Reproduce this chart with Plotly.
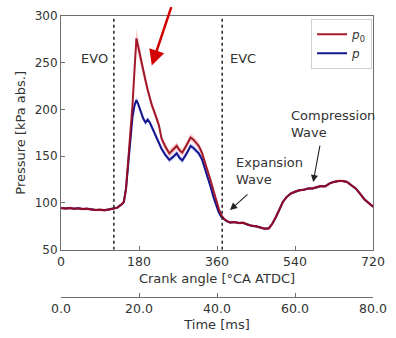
import plotly.graph_objects as go

# Crank angle grid [deg CA ATDC]
angle = [0, 10, 20, 30, 40, 50, 60, 70, 80, 90, 100, 110, 120, 130, 140,
         145, 150, 155, 160, 165, 170, 174, 178, 184, 190, 195, 200, 205, 210, 215,
         220, 226, 232, 240, 250, 258, 267, 274, 280, 290, 299, 305, 310, 318, 325,
         332, 340, 346, 352, 358, 364, 370, 376, 382, 390,
         400, 410, 420, 430, 440, 450, 460, 470, 480,
         488, 496, 504, 512, 520,
         530, 540, 550, 560, 570, 580, 590, 600, 610, 620,
         630, 640, 650, 660, 670, 680, 690, 700, 710, 720]

# Stagnation pressure p0 [kPa abs.]
p0 = [94.5, 94.0, 94.6, 93.8, 94.2, 93.4, 93.8, 92.8, 92.4, 92.7, 92.3, 93.0, 93.6, 95.0, 98.5,
      101, 115, 145, 172, 205, 245, 276, 268, 254, 241, 231, 221, 211, 204, 198,
      192, 183, 169, 161, 153, 157, 161, 156, 154, 162, 170, 168, 165, 161, 154,
      144, 133, 123, 113, 103, 94, 87, 83, 81, 79,
      79.5, 78.5, 78.8, 77.0, 75.5, 75.0, 73.5, 72.5, 73.0,
      78, 85, 93, 101, 106,
      110, 112, 113.5, 114, 115.5, 115.5, 116.5, 118, 117.8, 121,
      122.5, 123.5, 123.5, 122.5, 119, 115.5, 110, 104, 100, 96]

# Static pressure p [kPa abs.]
p = [94.5, 94.0, 94.6, 93.8, 94.2, 93.4, 93.8, 92.8, 92.4, 92.7, 92.3, 93.0, 93.6, 95.0, 98.5,
     101, 115, 144, 170, 192, 205, 210, 206, 198, 190, 186, 189, 186, 181, 176,
     170, 164, 158, 152, 146, 149, 153, 148, 145.5, 153, 161, 159, 157, 153, 147,
     137, 126, 116, 106, 98, 90, 85, 82.5, 80.5, 79,
     79.5, 78.5, 78.8, 77.0, 75.5, 75.0, 73.5, 72.5, 73.0,
     78, 85, 93, 101, 106,
     110, 112, 113.5, 114, 115.5, 115.5, 116.5, 118, 117.8, 121,
     122.5, 123.5, 123.5, 122.5, 119, 115.5, 110, 104, 100, 96]

# Cycle-to-cycle spread (half band width) [kPa]
p0_spread = [1.5, 1.5, 1.5, 1.5, 1.5, 1.5, 1.5, 1.5, 1.5, 1.5, 1.5, 1.5, 1.5, 1.5, 1.5,
             2, 3, 4, 5, 6.5, 8.5, 11, 9, 7, 6, 5.5, 5, 4.5, 4.5, 4,
             4, 4, 4, 4, 4, 4, 4, 4, 4, 4, 4, 4, 4, 4, 3.5,
             3.5, 3, 3, 3, 2.5, 2, 2, 1.5, 1.5, 1.5,
             1.5, 1.5, 1.5, 1.5, 1.5, 1.5, 1.5, 1.5, 1.5,
             1.5, 1.5, 1.5, 1.5, 1.5,
             1.5, 1.5, 1.5, 1.5, 1.5, 1.5, 1.5, 1.5, 1.5, 1.5,
             1.5, 1.5, 1.5, 1.5, 1.5, 1.5, 1.5, 1.5, 1.5, 1.5]
p_spread = [1.2, 1.2, 1.2, 1.2, 1.2, 1.2, 1.2, 1.2, 1.2, 1.2, 1.2, 1.2, 1.2, 1.2, 1.2,
            1.5, 2, 2.5, 3, 3, 3, 3.5, 3, 3, 3, 3, 3, 3, 3, 3,
            3, 3, 3, 3, 3, 3, 3, 3, 3, 3, 3, 3, 3, 3, 3,
            3, 2.5, 2.5, 2, 2, 1.5, 1.5, 1.2, 1.2, 1.2,
            1.2, 1.2, 1.2, 1.2, 1.2, 1.2, 1.2, 1.2, 1.2,
            1.2, 1.2, 1.2, 1.2, 1.2,
            1.2, 1.2, 1.2, 1.2, 1.2, 1.2, 1.2, 1.2, 1.2, 1.2,
            1.2, 1.2, 1.2, 1.2, 1.2, 1.2, 1.2, 1.2, 1.2, 1.2]

# Valve events [deg CA ATDC]
evo_angle = 122
evc_angle = 372

# 1500 rpm -> 9 deg CA per ms
deg_per_ms = 9.0

angle_ticks = [0, 180, 360, 540, 720]
time_ticks = [0, 20, 40, 60, 80]
pressure_ticks = [50, 100, 150, 200, 250, 300]

AXIS_COLOR = "#6e6e6e"
TEXT_COLOR = "#333333"


def band(values, spread):
    upper = [v + s for v, s in zip(values, spread)]
    lower = [v - s for v, s in zip(values, spread)]
    return angle + angle[::-1], upper + lower[::-1]


fig = go.Figure()

bx, by = band(p, p_spread)
fig.add_trace(go.Scatter(x=bx, y=by, fill="toself", fillcolor="rgba(90,110,235,0.28)",
                         line=dict(width=0), hoverinfo="skip", showlegend=False))
bx, by = band(p0, p0_spread)
fig.add_trace(go.Scatter(x=bx, y=by, fill="toself", fillcolor="rgba(235,85,85,0.28)",
                         line=dict(width=0), hoverinfo="skip", showlegend=False))

fig.add_trace(go.Scatter(x=angle, y=p, mode="lines", name="<i>p</i>",
                         line=dict(color="#15168f", width=2), legendrank=2))
fig.add_trace(go.Scatter(x=angle, y=p0, mode="lines", name="<i>p</i><sub>0</sub>",
                         line=dict(color="rgba(155,10,30,0.93)", width=2), legendrank=1))

# Carrier for the secondary time axis
time_ms = [a / deg_per_ms for a in angle]
fig.add_trace(go.Scatter(x=time_ms, y=p0, xaxis="x2", mode="lines", opacity=0,
                         line=dict(width=0), hoverinfo="skip", showlegend=False))

# Valve event markers
for a in (evo_angle, evc_angle):
    fig.add_shape(type="line", xref="x", yref="y", x0=a, x1=a, y0=50, y1=300,
                  line=dict(color="#222222", width=1.5, dash="dot"))

annotations = [
    dict(x=78, y=254.5, text="EVO", showarrow=False, font=dict(size=13)),
    dict(x=421, y=254.5, text="EVC", showarrow=False, font=dict(size=13)),
    dict(x=525, y=184, text="Compression<br>Wave", showarrow=False, xanchor="left",
         align="left", font=dict(size=13)),
    dict(x=399, y=134, text="Expansion<br>Wave", showarrow=False, xanchor="left",
         align="left", font=dict(size=13)),
    # arrows
    dict(x=582, y=122.3, ax=7, ay=-38, text="", showarrow=True, arrowhead=2,
         arrowsize=1.3, arrowwidth=1.1, arrowcolor="#222222"),
    dict(x=390, y=92.4, ax=19, ay=-17, text="", showarrow=True, arrowhead=2,
         arrowsize=1.3, arrowwidth=1.1, arrowcolor="#222222"),
    dict(x=209.5, y=247, ax=20, ay=-60, text="", showarrow=True, arrowhead=2,
         arrowsize=1.25, arrowwidth=2.5, arrowcolor="#d20000"),
]

fig.update_layout(
    width=396, height=338,
    margin=dict(l=61, r=12, t=9, b=38),
    paper_bgcolor="white", plot_bgcolor="white",
    font=dict(family="DejaVu Sans", size=12, color=TEXT_COLOR),
    xaxis=dict(range=[0, 720], tickvals=angle_ticks, ticks="inside", ticklen=4,
               tickcolor=AXIS_COLOR, showline=True, linecolor=AXIS_COLOR, linewidth=1,
               mirror=True, showgrid=False, zeroline=False, anchor="y",
               tickfont=dict(size=12.5),
               title=dict(text="Crank angle [°CA ATDC]", standoff=6, font=dict(size=13))),
    yaxis=dict(domain=[0.1684, 1], range=[50, 300], tickvals=pressure_ticks, ticks="inside",
               ticklen=4, tickcolor=AXIS_COLOR, showline=True, linecolor=AXIS_COLOR,
               linewidth=1, mirror=True, showgrid=False, zeroline=False,
               tickfont=dict(size=12),
               title=dict(text="Pressure [kPa abs.]", standoff=6, font=dict(size=13))),
    xaxis2=dict(range=[0, 80], tickvals=time_ticks, tickformat=".1f", overlaying="x",
                anchor="free", position=0, side="bottom", ticks="inside", ticklen=4,
                tickcolor=AXIS_COLOR, showline=True, linecolor=AXIS_COLOR, linewidth=1,
                showgrid=False, zeroline=False, tickfont=dict(size=12.5),
                title=dict(text="Time [ms]", standoff=4, font=dict(size=13))),
    legend=dict(x=0.997, y=0.99, xanchor="right", yanchor="top", bgcolor="white",
                bordercolor="#d0d0d0", borderwidth=1, font=dict(size=12),
                itemwidth=30, tracegroupgap=0),
    annotations=annotations,
    showlegend=True,
)

fig.write_html("out.html")
